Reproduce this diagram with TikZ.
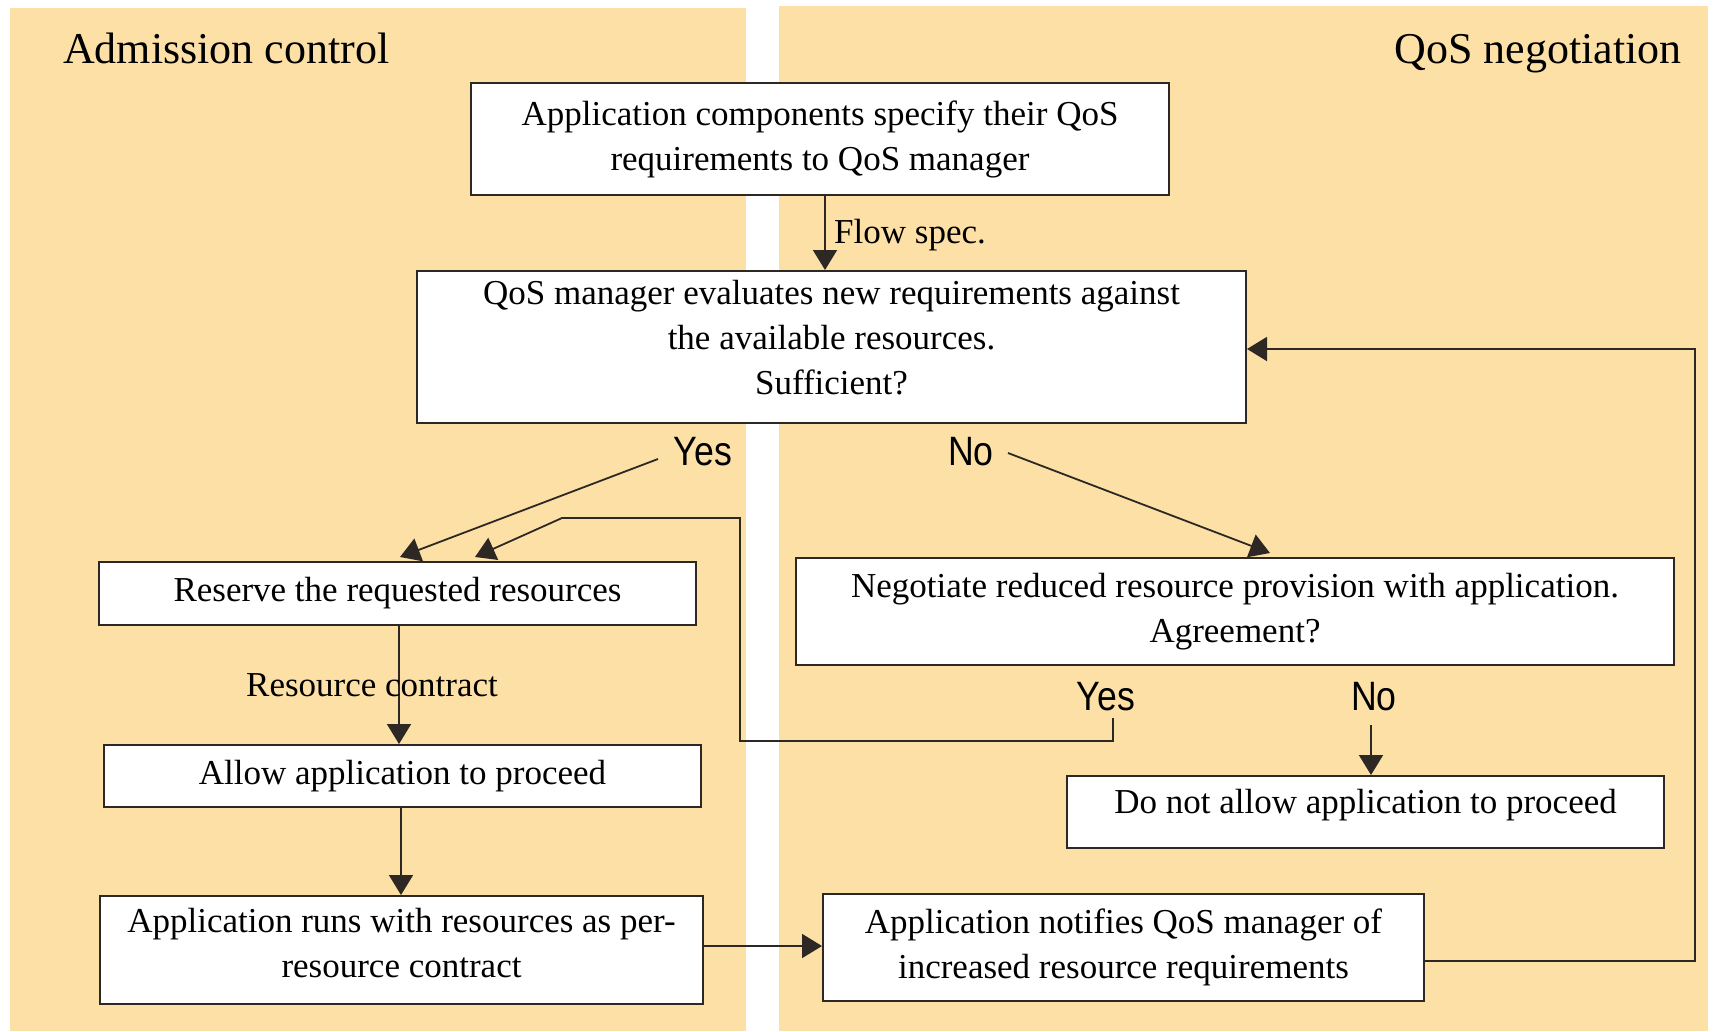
\documentclass[tikz,border=0pt]{standalone}
\usepackage{fontspec}
\setmainfont{Liberation Serif}
\newfontfamily\narrowsans[FakeStretch=0.87]{Liberation Sans}
\usetikzlibrary{arrows.meta}
\definecolor{panel}{RGB}{252,224,166}
\definecolor{ink}{RGB}{45,40,35}
\newcommand\bodyfont{\fontsize{35}{45}\selectfont}
\newcommand\titlefont{\fontsize{44}{52}\selectfont}
\newcommand\answerfont{\narrowsans\fontsize{41}{48}\selectfont}
% stacked lines whose block is raised by #1 from the node centre
\newcommand\stacked[2]{\raisebox{#1}[0pt][0pt]{\begin{tabular}{@{}c@{}}#2\end{tabular}}}
\begin{document}
\begin{tikzpicture}[x=1pt,y=-1pt,
  stepbox/.style={draw=ink, line width=2pt, fill=white, align=center, inner sep=0pt, font=\bodyfont},
  flow/.style={draw=ink, line width=1.8pt, -{Triangle[length=20pt,width=24pt]}},
  answer/.style={font=\answerfont, inner sep=0pt},
  note/.style={font=\bodyfont, inner sep=0pt},
  title/.style={font=\titlefont, inner sep=0pt}]
\useasboundingbox (0,0) rectangle (1721,1031);
\fill[white] (0,0) rectangle (1721,1031);
% the two swim lanes
\fill[panel] (10,8) rectangle (746,1031);
\fill[panel] (779,6) rectangle (1708,1031);
\node[title, anchor=base west] (adm) at (63,63) {Admission control};
\node[title, anchor=base east] (neg) at (1682,63) {QoS negotiation};

% process steps
\node[stepbox, minimum width=698pt, minimum height=112pt] (comp) at (820,139)
  {Application components specify their QoS\\requirements to QoS manager};
\node[stepbox, minimum width=829pt, minimum height=152pt] (eval) at (831.5,347)
  {\stacked{0pt}{QoS manager evaluates new requirements against\\the available resources.\\Sufficient?}};
\node[stepbox, minimum width=597pt, minimum height=63pt] (reserve) at (397.5,593.5)
  {Reserve the requested resources};
\node[stepbox, minimum width=597pt, minimum height=62pt] (allow) at (402.5,776)
  {Allow application to proceed};
\node[stepbox, minimum width=603pt, minimum height=108pt] (runs) at (401.5,950)
  {\stacked{-2.5pt}{Application runs with resources as per-\\resource contract}};
\node[stepbox, minimum width=878pt, minimum height=107pt] (nego) at (1235,611.5)
  {Negotiate reduced resource provision with application.\\Agreement?};
\node[stepbox, minimum width=597pt, minimum height=72pt, text height=24pt, text depth=21pt] (deny) at (1365.5,812)
  {Do not allow application to proceed};
\node[stepbox, minimum width=601pt, minimum height=107pt] (notify) at (1123.5,947.5)
  {Application notifies QoS manager of\\increased resource requirements};

% answer labels
\node[answer] (yes1) at (703,452) {Yes};
\node[answer] (no1) at (971,452) {No};
\node[answer] (yes2) at (1106,697) {Yes};
\node[answer] (no2) at (1374,697) {No};

% flow spec
\coordinate (fsx) at (825,0);
\draw[flow] (comp.south -| fsx) -- (eval.north -| fsx);
\node[note, anchor=west] (fspec) at (834,235) {Flow spec.};

% sufficient: yes / no
\coordinate (y1a) at (658,459);
\coordinate (y1b) at (400,557);
\draw[flow] (y1a) -- (y1b);
\coordinate (n1a) at (1008,453);
\coordinate (n1b) at (1270,553);
\draw[flow] (n1a) -- (n1b);

% agreement: yes loops back to reservation
\coordinate (y2a) at (1113,718);
\coordinate (y2b) at (475,557);
\draw[flow] (y2a) -- (1113,741) -- (740,741) -- (740,518) -- (562,518) -- (y2b);
% agreement: no
\coordinate (n2a) at (1371,725);
\draw[flow] (n2a) -- (deny.north -| n2a);

% admission path
\coordinate (ax1) at (399,0);
\draw[flow] (reserve.south -| ax1) -- (allow.north -| ax1);
\node[note] (rc) at (372,685) {Resource contract};
\coordinate (ax2) at (401,0);
\draw[flow] (allow.south -| ax2) -- (runs.north -| ax2);
\coordinate (ry) at (0,946);
\draw[flow] (runs.east |- ry) -- (notify.west |- ry);

% renegotiation loop
\coordinate (fy) at (0,961);
\coordinate (ey) at (0,349);
\draw[flow] (notify.east |- fy) -- (1695,961) -- (1695,349) -- (eval.east |- ey);
\end{tikzpicture}
\end{document}
